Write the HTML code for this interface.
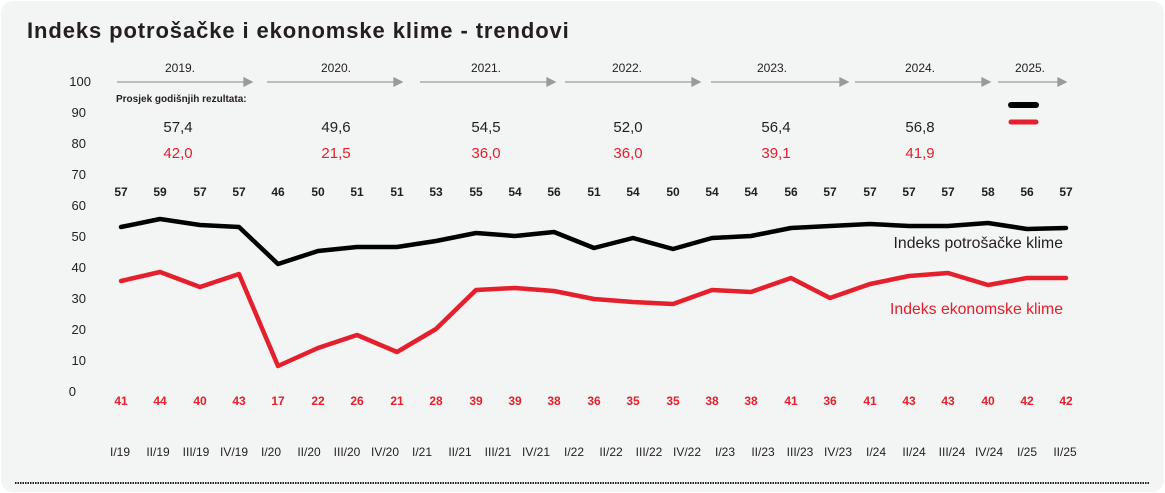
<!DOCTYPE html>
<html><head><meta charset="utf-8"><style>
body{margin:0;background:#fff;}
svg{display:block;font-family:"Liberation Sans",sans-serif;}
</style></head><body>
<svg width="1165" height="493" viewBox="0 0 1165 493">
<rect x="1" y="1" width="1163" height="491" rx="12" fill="#f3f4f4"/>
<text x="27" y="38" font-size="22" font-weight="bold" letter-spacing="0.9" fill="#231f20">Indeks potrošačke i ekonomske klime - trendovi</text>
<g font-size="13" fill="#231f20" text-anchor="end">
<text x="91" y="86">100</text><text x="86" y="117">90</text><text x="86" y="148">80</text><text x="86" y="179">70</text><text x="86" y="210">60</text><text x="86" y="241">50</text><text x="86" y="272">40</text><text x="86" y="303">30</text><text x="86" y="334">20</text><text x="86" y="365">10</text><text x="76" y="396">0</text>
</g>
<g stroke="#9a9a9a" stroke-width="1.3" fill="#9a9a9a">
<line x1="117" y1="82" x2="244" y2="82"/><polygon points="244,78 252,82 244,86"/>
<line x1="267" y1="82" x2="394" y2="82"/><polygon points="394,78 402,82 394,86"/>
<line x1="420" y1="82" x2="547" y2="82"/><polygon points="547,78 555,82 547,86"/>
<line x1="565" y1="82" x2="692" y2="82"/><polygon points="692,78 700,82 692,86"/>
<line x1="711" y1="82" x2="840" y2="82"/><polygon points="840,78 848,82 840,86"/>
<line x1="855" y1="82" x2="982" y2="82"/><polygon points="982,78 990,82 982,86"/>
<line x1="998" y1="82" x2="1058" y2="82"/><polygon points="1058,78 1066,82 1058,86"/>
</g>
<g font-size="12" fill="#231f20" text-anchor="middle">
<text x="180" y="72">2019.</text><text x="336" y="72">2020.</text><text x="486" y="72">2021.</text><text x="627" y="72">2022.</text><text x="772" y="72">2023.</text><text x="920" y="72">2024.</text><text x="1030" y="72">2025.</text>
</g>
<text x="116" y="102" font-size="10" font-weight="bold" fill="#231f20">Prosjek godišnjih rezultata:</text>
<g font-size="15" text-anchor="middle">
<g fill="#231f20"><text x="178" y="132">57,4</text><text x="336" y="132">49,6</text><text x="486" y="132">54,5</text><text x="628" y="132">52,0</text><text x="776" y="132">56,4</text><text x="920" y="132">56,8</text></g>
<g fill="#e3202b"><text x="178" y="158">42,0</text><text x="336" y="158">21,5</text><text x="486" y="158">36,0</text><text x="628" y="158">36,0</text><text x="776" y="158">39,1</text><text x="920" y="158">41,9</text></g>
</g>
<line x1="1011" y1="105" x2="1036" y2="105" stroke="#000" stroke-width="6" stroke-linecap="round"/>
<line x1="1011" y1="122" x2="1036" y2="122" stroke="#e3202b" stroke-width="5" stroke-linecap="round"/>
<g font-size="12" font-weight="bold" fill="#231f20" text-anchor="middle">
<text x="121" y="196">57</text><text x="160" y="196">59</text><text x="200" y="196">57</text><text x="239" y="196">57</text><text x="278" y="196">46</text><text x="318" y="196">50</text><text x="357" y="196">51</text><text x="397" y="196">51</text><text x="436" y="196">53</text><text x="476" y="196">55</text><text x="515" y="196">54</text><text x="554" y="196">56</text><text x="594" y="196">51</text><text x="633" y="196">54</text><text x="673" y="196">50</text><text x="712" y="196">54</text><text x="751" y="196">54</text><text x="791" y="196">56</text><text x="830" y="196">57</text><text x="870" y="196">57</text><text x="909" y="196">57</text><text x="948" y="196">57</text><text x="988" y="196">58</text><text x="1027" y="196">56</text><text x="1066" y="196">57</text>
</g>
<g font-size="12" font-weight="bold" fill="#e3202b" text-anchor="middle">
<text x="121" y="405">41</text><text x="160" y="405">44</text><text x="200" y="405">40</text><text x="239" y="405">43</text><text x="278" y="405">17</text><text x="318" y="405">22</text><text x="357" y="405">26</text><text x="397" y="405">21</text><text x="436" y="405">28</text><text x="476" y="405">39</text><text x="515" y="405">39</text><text x="554" y="405">38</text><text x="594" y="405">36</text><text x="633" y="405">35</text><text x="673" y="405">35</text><text x="712" y="405">38</text><text x="751" y="405">38</text><text x="791" y="405">41</text><text x="830" y="405">36</text><text x="870" y="405">41</text><text x="909" y="405">43</text><text x="948" y="405">43</text><text x="988" y="405">40</text><text x="1027" y="405">42</text><text x="1066" y="405">42</text>
</g>
<polyline fill="none" stroke="#000" stroke-width="4.5" stroke-linejoin="round" stroke-linecap="round" points="121,227 160,219 200,225 239,227 278,264 318,251 357,247 397,247 436,241 476,233 515,236 554,232 594,248 633,238 673,249 712,238 751,236 791,228 830,226 870,224 909,226 948,226 988,223 1027,229 1066,228"/>
<polyline fill="none" stroke="#e3202b" stroke-width="4.5" stroke-linejoin="round" stroke-linecap="round" points="121,281 160,272 200,287 239,274 278,366 318,348 357,335 397,352 436,329 476,290 515,288 554,291 594,299 633,302 673,304 712,290 751,292 791,278 830,298 870,284 909,276 948,273 988,285 1027,278 1066,278"/>
<text x="1063" y="248" font-size="15.8" fill="#231f20" text-anchor="end">Indeks potrošačke klime</text>
<text x="1063" y="314" font-size="15.8" fill="#e3202b" text-anchor="end">Indeks ekonomske klime</text>
<g font-size="12" fill="#231f20" text-anchor="middle">
<text x="120" y="456">I/19</text><text x="158" y="456">II/19</text><text x="196" y="456">III/19</text><text x="234" y="456">IV/19</text><text x="271" y="456">I/20</text><text x="309" y="456">II/20</text><text x="347" y="456">III/20</text><text x="385" y="456">IV/20</text><text x="422" y="456">I/21</text><text x="460" y="456">II/21</text><text x="498" y="456">III/21</text><text x="536" y="456">IV/21</text><text x="574" y="456">I/22</text><text x="611" y="456">II/22</text><text x="649" y="456">III/22</text><text x="687" y="456">IV/22</text><text x="725" y="456">I/23</text><text x="763" y="456">II/23</text><text x="800" y="456">III/23</text><text x="838" y="456">IV/23</text><text x="876" y="456">I/24</text><text x="914" y="456">II/24</text><text x="952" y="456">III/24</text><text x="989" y="456">IV/24</text><text x="1027" y="456">I/25</text><text x="1065" y="456">II/25</text>
</g>
<line x1="15" y1="483" x2="1150" y2="483" stroke="#231f20" stroke-width="2" stroke-dasharray="1.5,1"/>
</svg>
</body></html>
